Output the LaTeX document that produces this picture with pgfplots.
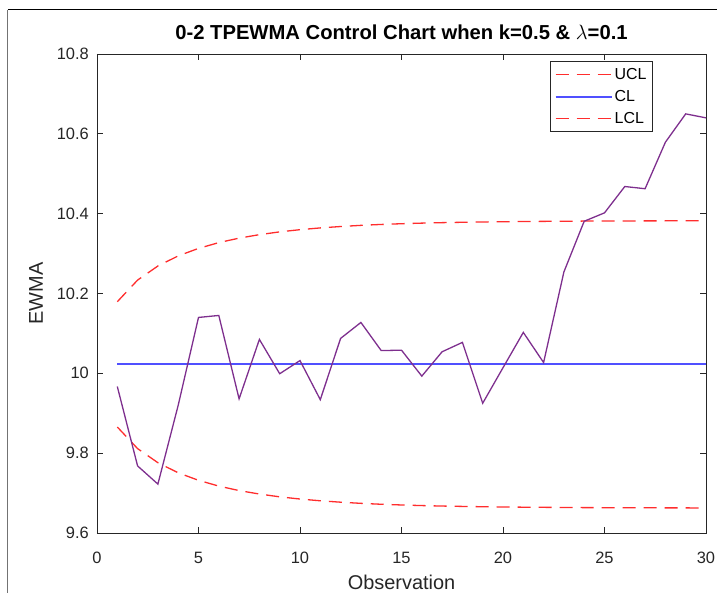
\documentclass[border=0pt]{standalone}
\usepackage{pgfplots}
\pgfplotsset{compat=1.18}
\usepackage{fontspec}
\setmainfont{Liberation Sans}
\definecolor{ucl}{RGB}{255,45,45}
\definecolor{cl}{RGB}{80,80,255}
\definecolor{dat}{RGB}{126,47,142}
\definecolor{axc}{RGB}{38,38,38}
\begin{document}
\begin{tikzpicture}
\begin{axis}[
  name=ax, at={(0,0)}, anchor=south west,
  scale only axis, width=609bp, height=479bp,
  xmin=0, xmax=30, ymin=9.6, ymax=10.8,
  xtick={0,5,10,15,20,25,30},
  ytick={9.6,9.8,10,10.2,10.4,10.6,10.8},
  tick align=inside, major tick length=6bp,
  axis line style={axc, line width=0.8bp},
  every tick/.style={axc, line width=0.8bp},
  /pgf/number format/assume math mode=true,
  ticklabel style={font=\fontsize{16.5}{18}\selectfont, text=axc, inner sep=0pt},
  xticklabel style={anchor=base, yshift=-30bp},
  yticklabel style={anchor=east, xshift=-8bp},
  xlabel={Observation}, ylabel={EWMA},
  label style={font=\fontsize{20}{22}\selectfont, text=axc, inner sep=0pt},
  xlabel style={at={(axis description cs:0.5,0)}, anchor=base, yshift=-56bp},
  ylabel style={at={(axis description cs:-0.0887,0.5)}, anchor=base, rotate=0},
  title={0-2 TPEWMA Control Chart when k=0.5 \& $\lambda$=0.1},
  title style={font=\bfseries\fontsize{20.3}{22}\selectfont, at={(axis description cs:0.5,1)}, anchor=base, yshift=9bp, inner sep=0pt},
  legend image code/.code={\draw[#1] (0bp,0bp) -- (56bp,0bp);},
  legend style={at={(0.913,0.985)}, anchor=north east, draw=axc, line width=0.8bp,
    font=\fontsize{16}{18}\selectfont, inner xsep=4bp, inner ysep=4.5bp, row sep=5.5bp,
    nodes={inner sep=2bp, text=black}},
  legend cell align=left,
]
\addplot[ucl, line width=1.3bp, dash pattern=on 13bp off 8bp] coordinates {
(1,10.1794)(2,10.2336)(3,10.2689)(4,10.2942)(5,10.3130)(6,10.3275)(7,10.3387)(8,10.3474)(9,10.3544)(10,10.3599)
(11,10.3643)(12,10.3678)(13,10.3707)(14,10.3730)(15,10.3748)(16,10.3763)(17,10.3775)(18,10.3784)(19,10.3792)(20,10.3798)
(21,10.3803)(22,10.3807)(23,10.3811)(24,10.3814)(25,10.3816)(26,10.3817)(27,10.3819)(28,10.3820)(29,10.3821)(30,10.3822)};
\addlegendentry{UCL}
\addplot[cl, line width=2bp] coordinates {(1,10.0225)(30,10.0225)};
\addlegendentry{CL}
\addplot[ucl, line width=1.3bp, dash pattern=on 13bp off 8bp] coordinates {
(1,9.8656)(2,9.8114)(3,9.7761)(4,9.7508)(5,9.7320)(6,9.7175)(7,9.7063)(8,9.6976)(9,9.6906)(10,9.6851)
(11,9.6807)(12,9.6772)(13,9.6743)(14,9.6720)(15,9.6702)(16,9.6687)(17,9.6675)(18,9.6666)(19,9.6658)(20,9.6652)
(21,9.6647)(22,9.6643)(23,9.6639)(24,9.6636)(25,9.6634)(26,9.6633)(27,9.6631)(28,9.6630)(29,9.6629)(30,9.6628)};
\addlegendentry{LCL}
\addplot[dat, line width=1.3bp, forget plot] coordinates {
(1,9.967)(2,9.768)(3,9.7225)(4,9.92)(5,10.14)(6,10.145)(7,9.936)(8,10.085)(9,9.999)(10,10.032)
(11,9.934)(12,10.0875)(13,10.1275)(14,10.057)(15,10.058)(16,9.993)(17,10.054)(18,10.0775)(19,9.925)(20,10.014)
(21,10.1025)(22,10.027)(23,10.254)(24,10.381)(25,10.402)(26,10.468)(27,10.4625)(28,10.579)(29,10.65)(30,10.64)};
\end{axis}
\draw[black, line width=1bp] (-89bp,523bp) -- (620bp,523bp);
\draw[black!55, line width=1bp] (-89bp,523bp) -- (-89bp,-60bp);
\pgfresetboundingbox
\path[use as bounding box] (-97bp,-60bp) rectangle (620bp,533bp);
\end{tikzpicture}
\end{document}
